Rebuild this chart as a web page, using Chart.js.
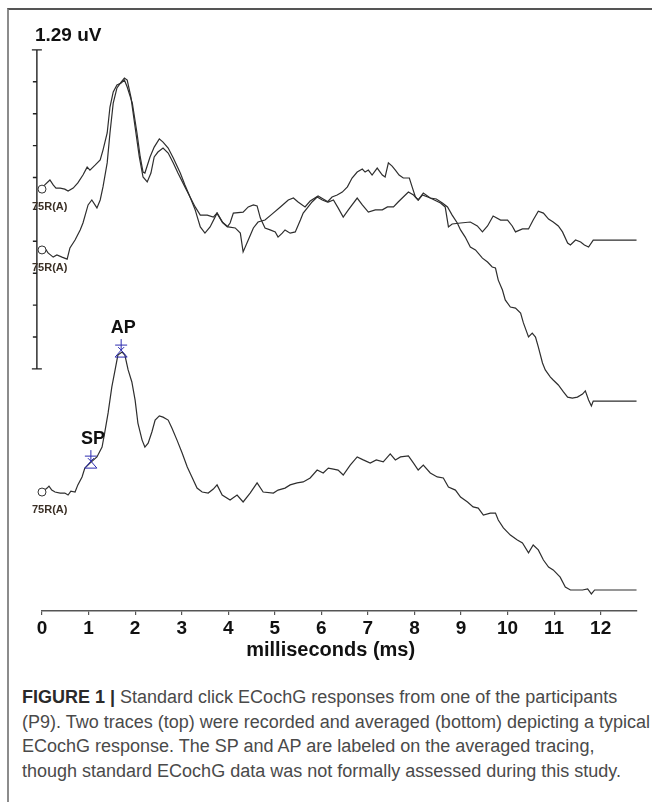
<!DOCTYPE html>
<html>
<head>
<meta charset="utf-8">
<script src="https://cdn.jsdelivr.net/npm/chart.js@4.4.0/dist/chart.umd.min.js"></script>
<style>
  html, body { margin: 0; padding: 0; background: #fff; }
  body { width: 652px; height: 802px; position: relative; overflow: hidden; }
  #frame { position: absolute; left: 7px; top: 8px; right: 0; bottom: 0; border-left: 2px solid #8c8c8c; border-top: 2px solid #555; }
  #chartBox { position: absolute; left: 0; top: 0; width: 652px; height: 680px; }
  #caption { position: absolute; left: 22px; top: 685px; font-family: "Liberation Sans", Arial, sans-serif; font-size: 18px; line-height: 24.5px; color: #4a4a4a; white-space: nowrap; }
  #caption b { color: #2a2a2a; }
</style>
</head>
<body>
<div id="frame"></div>
<div id="chartBox"><canvas id="ecochg" width="652" height="680"></canvas></div>
<div id="caption">
  <b>FIGURE 1 |</b> Standard click ECochG responses from one of the participants<br>
  (P9). Two traces (top) were recorded and averaged (bottom) depicting a typical<br>
  ECochG response. The SP and AP are labeled on the averaged tracing,<br>
  though standard ECochG data was not formally assessed during this study.
</div>
<script>
// time in ms, amplitude in uV (traces are stacked, offsets as in the original plot)
const traceATimes = [0,0.06,0.17,0.24,0.30,0.39,0.49,0.56,0.67,0.77,
  0.88,0.97,1.03,1.14,1.25,1.31,1.40,1.46,1.53,1.61,
  1.70,1.77,1.83,1.94,2.04,2.11,2.17,2.21,2.32,2.41,
  2.52,2.60,2.71,2.82,2.97,3.07,3.18,3.29,3.40,3.55,
  3.68,3.76,3.87,4.00,4.15,4.26,4.32,4.43,4.54,4.64,
  4.79,4.94,5.12,5.29,5.40,5.50,5.65,5.76,5.93,6.04,
  6.15,6.26,6.36,6.47,6.58,6.77,6.88,7.01,7.16,7.31,
  7.42,7.55,7.65,7.76,7.87,7.98,8.08,8.19,8.34,8.56,
  8.66,8.73,8.81,8.99,9.20,9.35,9.46,9.57,9.69,9.85,
  10.00,10.10,10.17,10.32,10.45,10.55,10.66,10.77,10.88,10.98,
  11.09,11.18,11.29,11.35,11.46,11.57,11.65,11.74,11.84,12.77];
const traceAValues = [1.706,1.723,1.743,1.723,1.710,1.710,1.706,1.698,1.710,1.731,
  1.763,1.795,1.783,1.803,1.824,1.864,1.933,2.038,2.099,2.127,
  2.135,2.147,2.119,2.054,1.933,1.836,1.775,1.771,1.836,1.876,
  1.909,1.896,1.872,1.832,1.771,1.723,1.674,1.634,1.601,1.601,
  1.593,1.609,1.573,1.553,1.549,1.528,1.452,1.500,1.549,1.573,
  1.581,1.605,1.634,1.662,1.670,1.654,1.634,1.658,1.678,1.666,
  1.654,1.662,1.630,1.593,1.622,1.670,1.642,1.613,1.622,1.622,
  1.634,1.634,1.654,1.674,1.694,1.682,1.662,1.690,1.670,1.650,
  1.634,1.553,1.565,1.569,1.573,1.557,1.533,1.557,1.597,1.581,
  1.581,1.557,1.533,1.545,1.545,1.581,1.617,1.609,1.585,1.573,
  1.557,1.533,1.488,1.480,1.500,1.492,1.480,1.472,1.500,1.500];

const traceBTimes = [0,0.06,0.13,0.24,0.32,0.43,0.54,0.60,0.71,0.82,
  0.88,0.99,1.07,1.18,1.25,1.31,1.40,1.46,1.53,1.61,
  1.70,1.77,1.83,1.91,2.00,2.09,2.17,2.26,2.34,2.41,
  2.49,2.60,2.71,2.82,2.92,3.07,3.18,3.29,3.40,3.50,
  3.61,3.76,3.89,3.98,4.04,4.11,4.32,4.43,4.54,4.62,
  4.69,4.79,4.90,5.01,5.07,5.16,5.22,5.33,5.44,5.55,
  5.61,5.70,5.80,5.91,6.02,6.13,6.23,6.34,6.45,6.56,
  6.66,6.77,6.88,6.94,7.01,7.09,7.20,7.31,7.37,7.44,
  7.52,7.59,7.67,7.76,7.89,7.95,8.02,8.08,8.17,8.34,
  8.47,8.60,8.71,8.81,8.92,8.99,9.09,9.20,9.31,9.46,
  9.57,9.67,9.74,9.80,9.89,9.95,10.06,10.17,10.28,10.34,
  10.45,10.53,10.60,10.66,10.75,10.81,10.92,10.98,11.09,11.20,
  11.29,11.39,11.50,11.61,11.67,11.74,11.80,11.84,12.77];
const traceBValues = [1.460,1.468,1.448,1.431,1.440,1.431,1.423,1.468,1.500,1.541,
  1.569,1.642,1.662,1.630,1.662,1.715,1.812,1.933,2.054,2.115,
  2.139,2.155,2.147,2.078,1.957,1.836,1.755,1.735,1.771,1.836,
  1.856,1.872,1.852,1.812,1.771,1.715,1.674,1.622,1.553,1.528,
  1.553,1.609,1.569,1.553,1.569,1.609,1.613,1.634,1.642,1.638,
  1.589,1.549,1.541,1.533,1.512,1.528,1.541,1.528,1.533,1.581,
  1.609,1.630,1.654,1.674,1.662,1.654,1.674,1.682,1.694,1.715,
  1.751,1.775,1.787,1.775,1.783,1.763,1.791,1.763,1.755,1.812,
  1.799,1.783,1.763,1.751,1.751,1.715,1.674,1.662,1.682,1.670,
  1.666,1.650,1.634,1.601,1.569,1.541,1.512,1.472,1.460,1.427,
  1.411,1.391,1.387,1.338,1.298,1.258,1.229,1.225,1.205,1.165,
  1.108,1.124,1.108,1.068,1.003,0.975,0.946,0.934,0.914,0.886,
  0.865,0.861,0.865,0.877,0.890,0.853,0.829,0.849,0.849];

// averaged trace
const traceCTimes = [0,0.11,0.15,0.21,0.28,0.39,0.49,0.56,0.62,0.71,
  0.77,0.86,0.92,1.03,1.18,1.29,1.35,1.42,1.50,1.57,
  1.63,1.72,1.78,1.85,1.93,2.00,2.06,2.15,2.21,2.28,
  2.36,2.43,2.52,2.60,2.71,2.79,2.90,3.01,3.12,3.22,
  3.33,3.44,3.57,3.68,3.76,3.87,4.04,4.19,4.32,4.47,
  4.62,4.75,4.97,5.07,5.22,5.33,5.48,5.61,5.76,5.91,
  6.04,6.15,6.26,6.36,6.47,6.62,6.77,6.90,7.05,7.18,
  7.33,7.48,7.59,7.70,7.87,7.98,8.08,8.19,8.34,8.49,
  8.62,8.73,8.88,8.99,9.14,9.26,9.37,9.48,9.63,9.74,
  9.80,9.91,10.06,10.21,10.32,10.45,10.55,10.66,10.77,10.88,
  10.98,11.13,11.24,11.35,11.48,11.61,11.72,11.80,11.87,12.77];
const traceCValues = [0.481,0.497,0.505,0.489,0.481,0.477,0.477,0.469,0.485,0.481,
  0.510,0.542,0.578,0.598,0.623,0.663,0.724,0.801,0.906,0.975,
  1.035,1.047,1.035,0.975,0.926,0.853,0.760,0.691,0.663,0.679,
  0.724,0.772,0.789,0.784,0.772,0.740,0.691,0.639,0.582,0.542,
  0.497,0.481,0.477,0.493,0.510,0.469,0.449,0.469,0.441,0.477,
  0.518,0.481,0.477,0.489,0.497,0.510,0.518,0.522,0.538,0.570,
  0.558,0.578,0.574,0.570,0.550,0.590,0.623,0.611,0.598,0.611,
  0.603,0.635,0.611,0.623,0.627,0.598,0.570,0.590,0.558,0.542,
  0.538,0.501,0.489,0.461,0.441,0.421,0.416,0.388,0.396,0.396,
  0.368,0.336,0.307,0.287,0.275,0.235,0.267,0.247,0.206,0.178,
  0.166,0.137,0.097,0.085,0.085,0.085,0.089,0.069,0.085,0.085];

const traceLabel = '75R(A)';
const xTicksMax = 12;
const xRange = [0, 12.78];
const yRange = [0, 2.309];

// amplitude scale bar (1.29 uV, 10 divisions), drawn just left of 0 ms
const scaleBarLabel = '1.29 uV';
const scaleBarSize = 1.29;
const scaleBarTop = 2.269;
const scaleBarDivisions = 10;
const scaleBarTime = -0.11;

// peaks marked on the averaged trace
const peakNames = ['SP', 'AP'];
const peakTimes = [1.05, 1.70];
const peakValues = [0.598, 1.047];

const xTitle = 'milliseconds (ms)';
const xTitleCenter = 6.2;

const toPoints = (t, v) => t.map((ms, i) => ({ x: ms, y: v[i] }));

const annotate = {
  id: 'annotate',
  afterDatasetsDraw(chart) {
    const { ctx, scales: { x, y } } = chart;
    ctx.save();
    // scale bar
    const bx = x.getPixelForValue(scaleBarTime);
    const yt = y.getPixelForValue(scaleBarTop);
    const yb = y.getPixelForValue(scaleBarTop - scaleBarSize);
    ctx.strokeStyle = '#222';
    ctx.lineWidth = 1.4;
    ctx.beginPath();
    ctx.moveTo(bx, yt); ctx.lineTo(bx, yb);
    ctx.moveTo(bx - 5, yt); ctx.lineTo(bx + 5, yt);
    ctx.moveTo(bx - 5, yb); ctx.lineTo(bx + 5, yb);
    for (let i = 1; i < scaleBarDivisions; i++) {
      const ty = y.getPixelForValue(scaleBarTop - scaleBarSize * i / scaleBarDivisions);
      ctx.moveTo(bx - 4, ty); ctx.lineTo(bx, ty);
    }
    ctx.stroke();
    ctx.fillStyle = '#111';
    ctx.font = 'bold 19px "Liberation Sans", Arial, sans-serif';
    ctx.textAlign = 'left';
    ctx.textBaseline = 'alphabetic';
    ctx.fillText(scaleBarLabel, bx - 2, yt - 9);

    // "75R(A)" under the start of each trace
    ctx.font = 'bold 11px "Liberation Sans", Arial, sans-serif';
    ctx.fillStyle = '#3b3026';
    chart.data.datasets.forEach(ds => {
      const p = ds.data[0];
      ctx.fillText(traceLabel, x.getPixelForValue(p.x) - 10, y.getPixelForValue(p.y) + 21);
    });

    // SP / AP markers
    peakNames.forEach((name, i) => {
      const px = x.getPixelForValue(peakTimes[i]);
      const py = y.getPixelForValue(peakValues[i]);
      ctx.strokeStyle = '#2b2bb0';
      ctx.lineWidth = 1;
      ctx.beginPath();
      ctx.moveTo(px, py - 2); ctx.lineTo(px - 6, py + 5); ctx.lineTo(px + 6, py + 5); ctx.closePath();
      ctx.moveTo(px, py - 13); ctx.lineTo(px, py - 2);
      ctx.moveTo(px - 6, py - 7); ctx.lineTo(px + 6, py - 7);
      ctx.moveTo(px - 3, py - 5); ctx.lineTo(px, py - 2); ctx.lineTo(px + 3, py - 5);
      ctx.stroke();
      ctx.fillStyle = '#111';
      ctx.font = 'bold 18px "Liberation Sans", Arial, sans-serif';
      ctx.textAlign = 'center';
      ctx.fillText(name, px + 2, py - 19);
    });

    // axis title
    ctx.font = 'bold 20px "Liberation Sans", Arial, sans-serif';
    ctx.textAlign = 'center';
    ctx.fillStyle = '#111';
    ctx.fillText(xTitle, x.getPixelForValue(xTitleCenter), chart.chartArea.bottom + 45);
    ctx.restore();
  }
};

const lineStyle = {
  borderColor: '#2e2e2e',
  borderWidth: 1.2,
  tension: 0,
  clip: false,
  pointRadius: c => (c.dataIndex === 0 ? 4 : 0),
  pointHoverRadius: 0,
  pointBackgroundColor: '#fff',
  pointBorderColor: '#333',
  pointBorderWidth: 1
};

new Chart(document.getElementById('ecochg'), {
  type: 'line',
  data: {
    datasets: [
      { label: 'Trace 1', data: toPoints(traceATimes, traceAValues), ...lineStyle },
      { label: 'Trace 2', data: toPoints(traceBTimes, traceBValues), ...lineStyle },
      { label: 'Average', data: toPoints(traceCTimes, traceCValues), ...lineStyle }
    ]
  },
  options: {
    responsive: false,
    animation: false,
    events: [],
    layout: { padding: { left: 42, right: 15, top: 40, bottom: 0 } },
    plugins: { legend: { display: false }, tooltip: { enabled: false } },
    scales: {
      x: {
        type: 'linear',
        min: xRange[0],
        max: xRange[1],
        afterFit: s => { s.height = 69; },
        border: { color: '#555', width: 1.5 },
        grid: { drawOnChartArea: false, color: '#555', tickLength: 4, lineWidth: 1.2 },
        ticks: {
          stepSize: 1,
          includeBounds: false,
          autoSkip: false,
          maxRotation: 0,
          padding: 2,
          color: '#111',
          font: { family: '"Liberation Sans", Arial, sans-serif', size: 19, weight: 'bold' },
          callback: v => (v <= xTicksMax ? v : '')
        }
      },
      y: { display: false, min: yRange[0], max: yRange[1] }
    }
  },
  plugins: [annotate]
});
</script>
</body>
</html>
